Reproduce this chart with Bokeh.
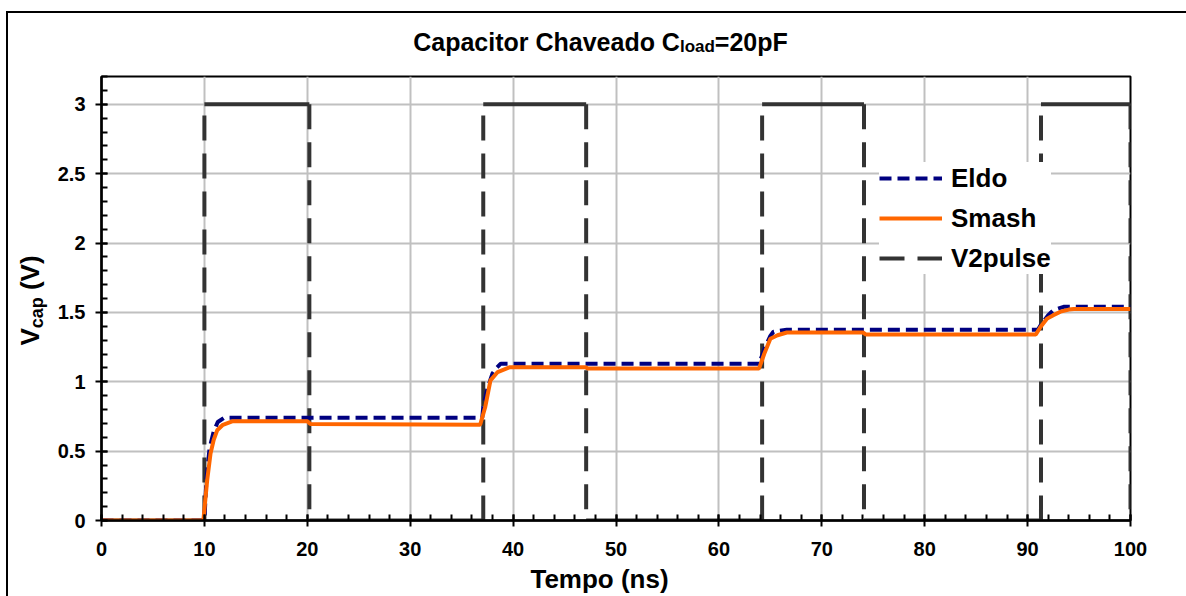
from math import pi
from bokeh.plotting import figure
from bokeh.models import (Label, Legend, LegendItem, FixedTicker, Range1d)
from bokeh.embed import file_html
from bokeh.resources import INLINE

# ---------------- texts ----------------
title_main = "Capacitor Chaveado C"
title_sub = "load"
title_tail = "=20pF"
x_title = "Tempo (ns)"
y_title_main = "V"
y_title_sub = "cap"
y_title_tail = "(V)"
series_names = ["Eldo", "Smash", "V2pulse"]

# ---------------- axes ----------------
x_ticks = [0, 10, 20, 30, 40, 50, 60, 70, 80, 90, 100]
x_tick_labels = ["0", "10", "20", "30", "40", "50", "60", "70", "80", "90", "100"]
y_ticks = [0, 0.5, 1, 1.5, 2, 2.5, 3]
y_tick_labels = ["0", "0.5", "1", "1.5", "2", "2.5", "3"]
x_minor = [i * 2 for i in range(51)]
y_minor = [i / 10 for i in range(33)]

# ---------------- data ----------------
eldo_t = [0, 10.0, 10.2, 10.5, 10.9, 11.3, 11.9, 37.0, 37.1, 37.5, 38.0, 38.4, 38.8,
          64.0, 64.1, 64.5, 65.0, 65.3, 66.6, 91.0, 91.2, 91.6, 92.0, 92.5, 93.5, 100]
eldo_v = [0, 0, 0.30, 0.52, 0.64, 0.71, 0.74, 0.74, 0.82, 0.95, 1.06, 1.10, 1.13,
          1.13, 1.17, 1.25, 1.33, 1.36, 1.375, 1.375, 1.40, 1.44, 1.48, 1.515, 1.54, 1.54]

smash_t = [0, 9.9, 10.27, 10.59, 10.9, 11.24, 11.8, 12.7, 20.0, 20.3, 36.8, 37.3, 37.8,
           38.5, 39.7, 47.0, 47.3, 63.9, 64.4, 65.0, 65.7, 66.6, 74.0, 74.3, 90.8, 91.25,
           91.9, 92.5, 93.2, 94.0, 94.5, 100]
smash_v = [0, 0, 0.29, 0.48, 0.58, 0.65, 0.69, 0.715, 0.715, 0.695, 0.69, 0.82, 1.01,
           1.07, 1.105, 1.105, 1.095, 1.095, 1.20, 1.31, 1.335, 1.355, 1.355, 1.34, 1.34, 1.395,
           1.455, 1.48, 1.505, 1.52, 1.525, 1.525]

pulse_t = [0, 10.0, 10.0, 20.2, 20.2, 37.1, 37.1, 47.1, 47.1, 64.2, 64.2, 74.1, 74.1,
           91.3, 91.3, 100, 100]
pulse_v = [0, 0, 3, 3, 0, 0, 3, 3, 0, 0, 3, 3, 0, 0, 3, 3, 0]

# ---------------- layout constants (page px) ----------------
W, H = 1186, 596
FRAME_L, FRAME_R, FRAME_T, FRAME_B = 101, 1130, 76, 520
SHIFT = 10  # rendered glyph offset of side-panel labels (empirical)

AW = {' ': 278, '(': 333, ')': 333, '=': 584, '0': 556, '2': 556, 'C': 722, 'F': 611,
      'T': 611, 'V': 667, 'a': 556, 'c': 556, 'd': 611, 'e': 556, 'h': 611, 'i': 278,
      'l': 278, 'm': 889, 'n': 611, 'o': 611, 'p': 611, 'r': 389, 's': 556, 't': 333,
      'v': 556}


def tw(s, size):
    return sum(AW.get(c, 556) for c in s) / 1000.0 * size


p = figure(width=W, height=H, x_range=Range1d(0, 100), y_range=Range1d(0, 3.2),
           output_backend="svg", toolbar_location=None,
           min_border_left=FRAME_L, min_border_right=W - FRAME_R,
           min_border_top=FRAME_T, min_border_bottom=H - FRAME_B)

p.border_fill_color = None
p.background_fill_color = "white"
p.outline_line_color = "black"
p.outline_line_width = 2
p.styles = {"box-shadow": ("inset 0 11px 0 0 white, inset 6px 0 0 0 white, "
                           "inset 0 13px 0 0 black, inset 8px 0 0 0 black")}

xt = FixedTicker(ticks=x_ticks, minor_ticks=x_minor)
yt = FixedTicker(ticks=y_ticks, minor_ticks=y_minor)
p.xaxis.ticker = xt
p.yaxis.ticker = yt
p.xgrid.ticker = xt
p.ygrid.ticker = yt
p.xaxis.major_label_overrides = {t: l for t, l in zip(x_ticks, x_tick_labels)}
p.yaxis.major_label_overrides = {t: l for t, l in zip(y_ticks, y_tick_labels)}

for ax in (p.xaxis, p.yaxis):
    ax.axis_line_color = "black"
    ax.axis_line_width = 2.5
    ax.major_tick_line_color = "black"
    ax.major_tick_line_width = 2
    ax.major_tick_in = 6
    ax.major_tick_out = 6
    ax.minor_tick_line_color = "black"
    ax.minor_tick_line_width = 2
    ax.minor_tick_in = 6
    ax.minor_tick_out = 0
    ax.major_label_text_font = "Liberation Sans"
    ax.major_label_text_font_style = "bold"
    ax.major_label_text_font_size = "20px"
    ax.major_label_text_color = "black"
p.xaxis.major_label_standoff = 15
p.yaxis.major_label_standoff = 10

p.grid.grid_line_color = "#C0C0C0"
p.grid.grid_line_width = 2

# pulse: horizontal parts solid, edges dashed (as in the reference)
hx0, hy0, hx1, hy1 = [], [], [], []
vx0, vy0, vx1, vy1 = [], [], [], []
for i in range(len(pulse_t) - 1):
    if pulse_v[i] == pulse_v[i + 1]:
        hx0.append(pulse_t[i]); hy0.append(pulse_v[i]); hx1.append(pulse_t[i + 1]); hy1.append(pulse_v[i + 1])
    else:
        vx0.append(pulse_t[i]); vy0.append(pulse_v[i]); vx1.append(pulse_t[i + 1]); vy1.append(pulse_v[i + 1])

p.segment(hx0, hy0, hx1, hy1, line_color="#333333", line_width=4)
r_pulse = p.segment(vx0, vy0, vx1, vy1, line_color="#333333", line_width=4, line_dash="25 13")
r_eldo = p.line(eldo_t, eldo_v, line_color="#000080", line_width=4, line_dash="12 6")
r_smash = p.line(smash_t, smash_v, line_color="#FF6600", line_width=4)

legend = Legend(items=[LegendItem(label=series_names[0], renderers=[r_eldo]),
                       LegendItem(label=series_names[1], renderers=[r_smash]),
                       LegendItem(label=series_names[2], renderers=[r_pulse])],
                location=(778, 246))
legend.background_fill_color = "white"
legend.background_fill_alpha = 1.0
legend.border_line_color = None
legend.padding = 10
legend.spacing = 8
legend.label_height = 32
legend.glyph_height = 20
legend.glyph_width = 63
legend.label_standoff = 9
legend.label_text_font = "Liberation Sans"
legend.label_text_font_style = "bold"
legend.label_text_font_size = "26px"
legend.label_text_color = "black"
legend.margin = 0
p.add_layout(legend)


def add_text(txt, size, page_x, page_y, place, angle=0.0):
    # placed in a side panel (not clipped); positioned from the frame corner
    p.add_layout(Label(x=0, y=0, x_offset=page_x - FRAME_L, y_offset=FRAME_B - page_y,
                       text=txt, text_font="Liberation Sans", text_font_style="bold",
                       text_font_size=f"{size}px", text_color="black",
                       text_align="left", text_baseline="alphabetic", angle=angle), place)


# title
TF, TS = 25, 17
tot = tw(title_main, TF) + tw(title_sub, TS) + tw(title_tail, TF)
x0 = 600 - tot / 2
base = 51 - SHIFT
add_text(title_main, TF, x0, base, "above")
x0 += tw(title_main, TF)
add_text(title_sub, TS, x0, base + 5, "above")
x0 += tw(title_sub, TS)
add_text(title_tail, TF, x0, base, "above")

# x title
XF = 26
add_text(x_title, XF, 600 - tw(x_title, XF) / 2, 588 - SHIFT, "below")

# y title (rotated)
YF, YS = 26, 18
gap = tw(" ", YF)
tot = tw(y_title_main, YF) + tw(y_title_sub, YS) + gap + tw(y_title_tail, YF)
y0 = 300 + tot / 2
bx = 39 - SHIFT
add_text(y_title_main, YF, bx, y0, "left", pi / 2)
y0 -= tw(y_title_main, YF)
add_text(y_title_sub, YS, bx + 7, y0, "left", pi / 2)
y0 -= tw(y_title_sub, YS) + gap
add_text(y_title_tail, YF, bx, y0, "right", pi / 2)

open("out.html", "w").write(file_html(p, INLINE))
